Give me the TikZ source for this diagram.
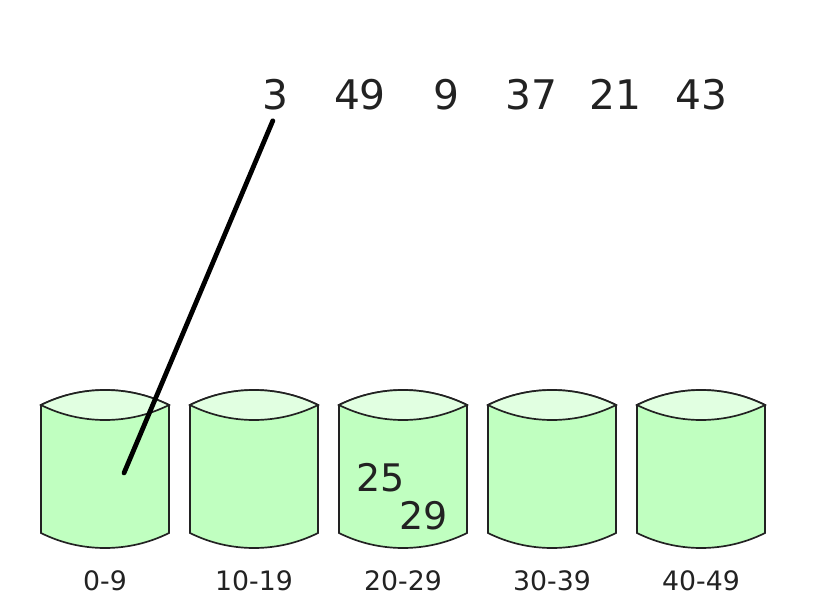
\documentclass[tikz,border=0pt]{standalone}
\usepackage{fontspec}
\setmainfont{DejaVu Sans}
\definecolor{bucketbody}{RGB}{192,255,192}
\definecolor{buckettop}{RGB}{225,255,225}
\definecolor{ink}{RGB}{34,34,34}
\tikzset{
  bucket/.style={draw=ink, line width=1.2pt, fill=bucketbody},
  bucketlid/.style={draw=ink, line width=1.2pt, fill=buckettop},
  item/.style={font=\fontsize{29}{34}\selectfont, text=ink, anchor=base},
  label/.style={font=\fontsize{19}{23}\selectfont, text=ink, anchor=base}
}
\begin{document}
\begin{tikzpicture}[x=0.025cm, y=-0.025cm]
  \useasboundingbox (0,0) rectangle (813,610);
  % Buckets
  \foreach \x/\range [count=\i from 0] in {41/0-9, 190/10-19, 339/20-29, 488/30-39, 637/40-49} {
    \draw[bucket] (\x,405) -- (\x,533) .. controls (\x+40,553) and (\x+88,553) .. (\x+128,533)
      -- (\x+128,405) .. controls (\x+88,385) and (\x+40,385) .. cycle;
    \draw[bucketlid] (\x,405) .. controls (\x+40,385) and (\x+88,385) .. (\x+128,405)
      .. controls (\x+88,425) and (\x+40,425) .. cycle;
    \node (b\i) [label] at (\x+64,590) {\range};
  }
  % Input numbers
  \node (n3) [item] at (275,110) {3};
  \node (n49) [item] at (360,110) {49};
  \node (n9) [item] at (446,110) {9};
  \node (n37) [item] at (531,110) {37};
  \node (n21) [item] at (615,110) {21};
  \node (n43) [item] at (701,110) {43};
  % Bucket contents
  \node (c25) [item, font=\fontsize{27}{32}\selectfont] at (381,491) {25};
  \node (c29) [item, font=\fontsize{27}{32}\selectfont] at (424,529) {29};
  % Arrow
  \coordinate (drop) at (124,473);
  \draw[line width=3.4pt, line cap=round, shorten <=4pt] (n3.south) -- (drop);
\end{tikzpicture}
\end{document}
